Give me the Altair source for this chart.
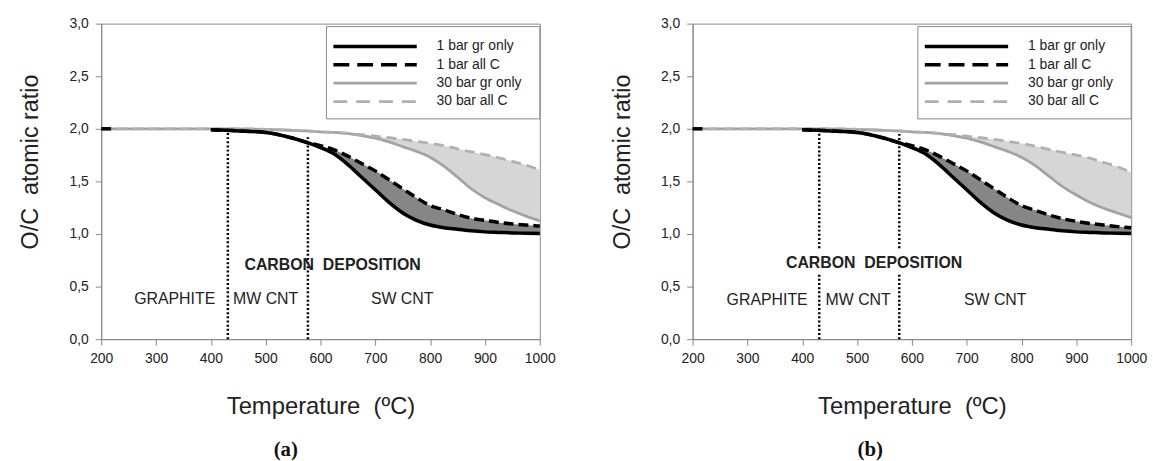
import altair as alt
import pandas as pd

FONT = "Liberation Sans"

# ---------------- data ----------------
T_GRAY = [200, 300, 400, 450, 500, 550, 575, 600, 625, 650, 675, 700, 725, 750,
          775, 800, 825, 850, 875, 900, 925, 950, 975, 1000]
T_BLACK = T_GRAY[2:]
STUB_T = [200, 218]
STUB_V = [2.0, 2.0]

# panel (a)
a_1bar_gr = [1.99, 1.98, 1.965, 1.91, 1.87, 1.82, 1.76, 1.66, 1.54, 1.42, 1.30, 1.20,
             1.13, 1.085, 1.06, 1.045, 1.03, 1.02, 1.015, 1.01, 1.007, 1.005]
a_1bar_all = [1.99, 1.98, 1.965, 1.91, 1.87, 1.84, 1.80, 1.74, 1.67, 1.60, 1.515, 1.43,
              1.345, 1.27, 1.23, 1.185, 1.15, 1.13, 1.11, 1.095, 1.085, 1.075]
a_30bar_gr = [2.0, 2.0, 2.0, 2.0, 1.995, 1.985, 1.98, 1.97, 1.965, 1.955, 1.935, 1.91,
              1.875, 1.83, 1.785, 1.73, 1.645, 1.54, 1.43, 1.345, 1.28, 1.22, 1.17, 1.125]
a_30bar_all = [2.0, 2.0, 2.0, 2.0, 1.995, 1.985, 1.98, 1.97, 1.965, 1.955, 1.945, 1.93,
               1.915, 1.90, 1.88, 1.86, 1.84, 1.81, 1.78, 1.755, 1.725, 1.69, 1.655, 1.61]

# panel (b)
b_1bar_gr = list(a_1bar_gr)
b_1bar_all = [1.99, 1.98, 1.965, 1.91, 1.87, 1.84, 1.80, 1.74, 1.67, 1.60, 1.515, 1.43,
              1.345, 1.27, 1.225, 1.18, 1.145, 1.12, 1.10, 1.085, 1.07, 1.06]
b_30bar_gr = [2.0, 2.0, 2.0, 2.0, 1.995, 1.985, 1.98, 1.97, 1.965, 1.955, 1.935, 1.91,
              1.875, 1.83, 1.785, 1.73, 1.65, 1.55, 1.45, 1.37, 1.30, 1.245, 1.20, 1.155]
b_30bar_all = [2.0, 2.0, 2.0, 2.0, 1.995, 1.985, 1.98, 1.97, 1.965, 1.955, 1.945, 1.93,
               1.915, 1.90, 1.88, 1.86, 1.835, 1.805, 1.775, 1.75, 1.72, 1.68, 1.64, 1.585]

SERIES = ["1 bar gr only", "1 bar all C", "30 bar gr only", "30 bar all C"]

RULE_T = [431, 577]
a_rule_lo = [[0.0, 1.985], [0.0, 1.93]]          # one segment each
b_rule_lo = [[0.0, 0.62, 0.864, 1.98], [0.0, 0.62, 0.864, 1.95]]  # two segments each

ZONES = ["GRAPHITE", "MW CNT", "SW CNT"]
a_zone_T = [334, 500, 749]
b_zone_T = [336, 502, 752]
a_zone_v = 0.377
b_zone_v = 0.368
CARBON = "CARBON\u00a0\u00a0DEPOSITION"
a_carbon = (622, 0.707)
b_carbon = (531, 0.72)

# ---------------- styles ----------------
STYLE = {
    "1 bar gr only": dict(color="#000000", strokeWidth=3.5),
    "1 bar all C": dict(color="#000000", strokeWidth=3.5, strokeDash=[10, 5]),
    "30 bar gr only": dict(color="#a3a3a3", strokeWidth=2.8),
    "30 bar all C": dict(color="#b0b0b0", strokeWidth=2.8, strokeDash=[10, 6]),
}

X = alt.X("T:Q", scale=alt.Scale(domain=[200, 1000], nice=False, zero=False),
          axis=alt.Axis(values=list(range(200, 1001, 100)), format="d", labelFlush=False,
                        title="Temperature\u00a0 (ºC)",
                        grid=False, tickSize=6, labelPadding=7, titlePadding=29,
                        domainColor="#888888", tickColor="#888888", labelColor="#222222",
                        labelFont=FONT, labelFontSize=14, titleFont=FONT, titleFontSize=24,
                        titleFontWeight="normal", titleColor="#222222"))
Y = alt.Y("v:Q", scale=alt.Scale(domain=[0, 3], nice=False),
          axis=alt.Axis(values=[0, 0.5, 1, 1.5, 2, 2.5, 3],
                        labelExpr="replace(format(datum.value, '.1f'), '.', ',')",
                        labelFlush=False,
                        title="O/C\u00a0\u00a0atomic ratio", grid=False, tickSize=6,
                        labelPadding=7, titleY=139, titleX=-71, titleBaseline="middle",
                        domainColor="#888888", tickColor="#888888", labelColor="#222222",
                        labelFont=FONT, labelFontSize=14, titleFont=FONT, titleFontSize=23.5,
                        titleFontWeight="normal", titleColor="#222222"))

ONE = pd.DataFrame({"k": [0]})


def panel(letter, s_gr1, s_all1, s_gr30, s_all30, rules, zone_T, zone_v, carbon, cap_x):
    layers = []
    # filled regions
    light = pd.DataFrame({"T": T_GRAY, "v": s_gr30, "v2": s_all30})
    dark = pd.DataFrame({"T": T_BLACK, "v": s_gr1, "v2": s_all1})
    dark = dark[dark["T"] >= 575]
    layers.append(alt.Chart(light).mark_area(color="#d6d6d6", opacity=1, interpolate="monotone")
                  .encode(x=X, y=Y, y2="v2:Q"))
    layers.append(alt.Chart(dark).mark_area(color="#868686", opacity=1, interpolate="monotone")
                  .encode(x=X, y=Y, y2="v2:Q"))
    # lines
    for name, tt, vals in [("30 bar gr only", T_GRAY, s_gr30), ("30 bar all C", T_GRAY, s_all30),
                           ("1 bar gr only", T_BLACK, s_gr1), ("1 bar all C", T_BLACK, s_all1)]:
        st = STYLE[name]
        df = pd.DataFrame({"T": tt, "v": vals})
        kw = dict(color=st["color"], strokeWidth=st["strokeWidth"], interpolate="monotone")
        if "strokeDash" in st:
            kw["strokeDash"] = st["strokeDash"]
        layers.append(alt.Chart(df).mark_line(**kw).encode(x=X, y=Y))
    stub = pd.DataFrame({"T": STUB_T, "v": STUB_V})
    layers.append(alt.Chart(stub).mark_line(color="#000000", strokeWidth=3.5).encode(x=X, y=Y))
    # dotted rules
    rows = []
    for t, segs in zip(RULE_T, rules):
        for i in range(0, len(segs), 2):
            rows.append({"T": t, "v": segs[i], "v2": segs[i + 1]})
    layers.append(alt.Chart(pd.DataFrame(rows)).mark_rule(color="#000000", strokeWidth=2.5,
                                                          strokeDash=[2, 2.2]).encode(x=X, y=Y, y2="v2:Q"))
    # zone labels
    zdf = pd.DataFrame({"T": zone_T, "v": [zone_v] * 3, "label": ZONES})
    layers.append(alt.Chart(zdf).mark_text(font=FONT, fontSize=16, color="#222222").encode(
        x=X, y=Y, text="label:N"))
    cdf = pd.DataFrame({"T": [carbon[0]], "v": [carbon[1]], "label": [CARBON]})
    layers.append(alt.Chart(cdf).mark_text(font=FONT, fontSize=16, fontWeight="bold",
                                           color="#222222").encode(x=X, y=Y, text="label:N"))
    # legend
    layers.append(alt.Chart(ONE).mark_rect(fill="white", stroke="#888888", strokeWidth=1).encode(
        x=alt.value(227), x2=alt.value(442), y=alt.value(3), y2=alt.value(96)))
    row_y = [23, 41.5, 60, 78.5]
    for name, ry in zip(SERIES, row_y):
        st = STYLE[name]
        kw = dict(color=st["color"], strokeWidth=st["strokeWidth"])
        if "strokeDash" in st:
            kw["strokeDash"] = [16, 8] if name == "1 bar all C" else [14, 9]
        layers.append(alt.Chart(ONE).mark_rule(**kw).encode(
            x=alt.value(234), x2=alt.value(318), y=alt.value(ry)))
        layers.append(alt.Chart(ONE).mark_text(font=FONT, fontSize=14, color="#222222",
                                               align="left", baseline="middle").encode(
            x=alt.value(338), y=alt.value(ry), text=alt.value(name)))
    # caption
    layers.append(alt.Chart(ONE).mark_text(font="Liberation Serif", fontSize=21, fontWeight="bold",
                                           color="#111111", baseline="middle").encode(
        x=alt.value(cap_x), y=alt.value(430), text=alt.value(f"({letter})")))
    return alt.layer(*layers).properties(width=442, height=318)


pa = panel("a", a_1bar_gr, a_1bar_all, a_30bar_gr, a_30bar_all, a_rule_lo, a_zone_T, a_zone_v,
           a_carbon, 186)
pb = panel("b", b_1bar_gr, b_1bar_all, b_30bar_gr, b_30bar_all, b_rule_lo, b_zone_T, b_zone_v,
           b_carbon, 179)

chart = alt.hconcat(pa, pb, spacing=53).properties(
    padding={"left": 18, "top": 14, "right": 5, "bottom": 0},
    background="white",
).configure_view(stroke="#888888", strokeWidth=1)

chart.save("out.html", embed_options={"renderer": "svg", "actions": False})
